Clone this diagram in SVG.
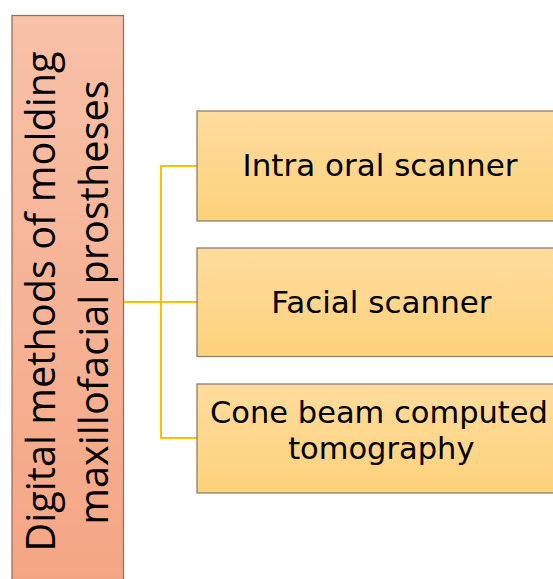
<svg xmlns="http://www.w3.org/2000/svg" width="553" height="579" viewBox="0 0 553 579">
<defs>
<linearGradient id="gSalmon" x1="0" y1="0" x2="0" y2="1">
<stop offset="0" stop-color="#F8C1A8"/>
<stop offset="1" stop-color="#F4A583"/>
</linearGradient>
<linearGradient id="gGold" x1="0" y1="0" x2="0" y2="1">
<stop offset="0" stop-color="#FFDC9E"/>
<stop offset="1" stop-color="#FDD27C"/>
</linearGradient>
<style>
.box{fill:url(#gGold);stroke:#8C8070;stroke-width:1.3}
.root{fill:url(#gSalmon);stroke:#8E7468;stroke-width:1.3}
.lbl{font-family:"Open Sans","Liberation Sans",sans-serif;fill:#000;text-anchor:middle}
.nlbl{font-family:"DejaVu Sans","Liberation Sans",sans-serif;fill:#000;text-anchor:middle}
.conn{fill:none;stroke:#FFC000;stroke-width:2}
</style>
</defs>
<rect width="553" height="579" fill="#FFFFFF"/>
<g id="connectors">
<path class="conn" d="M123.5,302 H197"/>
<path class="conn" d="M197,166 H161 V438 H197"/>
</g>
<g id="root">
<rect class="root" x="12" y="15.5" width="111.5" height="580"/>
<text class="lbl" font-size="39.7" transform="translate(55,302) rotate(-90)"><tspan x="0.5" y="0">Digital methods of molding</tspan><tspan x="-0.5" y="53">maxillofacial prostheses</tspan></text>
</g>
<g id="node1">
<rect class="box" x="197" y="111" width="370" height="110"/>
<text class="nlbl" font-size="31" x="380" y="175.7">Intra oral scanner</text>
</g>
<g id="node2">
<rect class="box" x="197" y="248" width="370" height="108.5"/>
<text class="nlbl" font-size="31" x="381.4" y="313.3">Facial scanner</text>
</g>
<g id="node3">
<rect class="box" x="197" y="384" width="370" height="109"/>
<text class="nlbl" font-size="30.5" x="379" y="423">Cone beam computed</text>
<text class="nlbl" font-size="30.5" x="381.3" y="458.8">tomography</text>
</g>
</svg>
